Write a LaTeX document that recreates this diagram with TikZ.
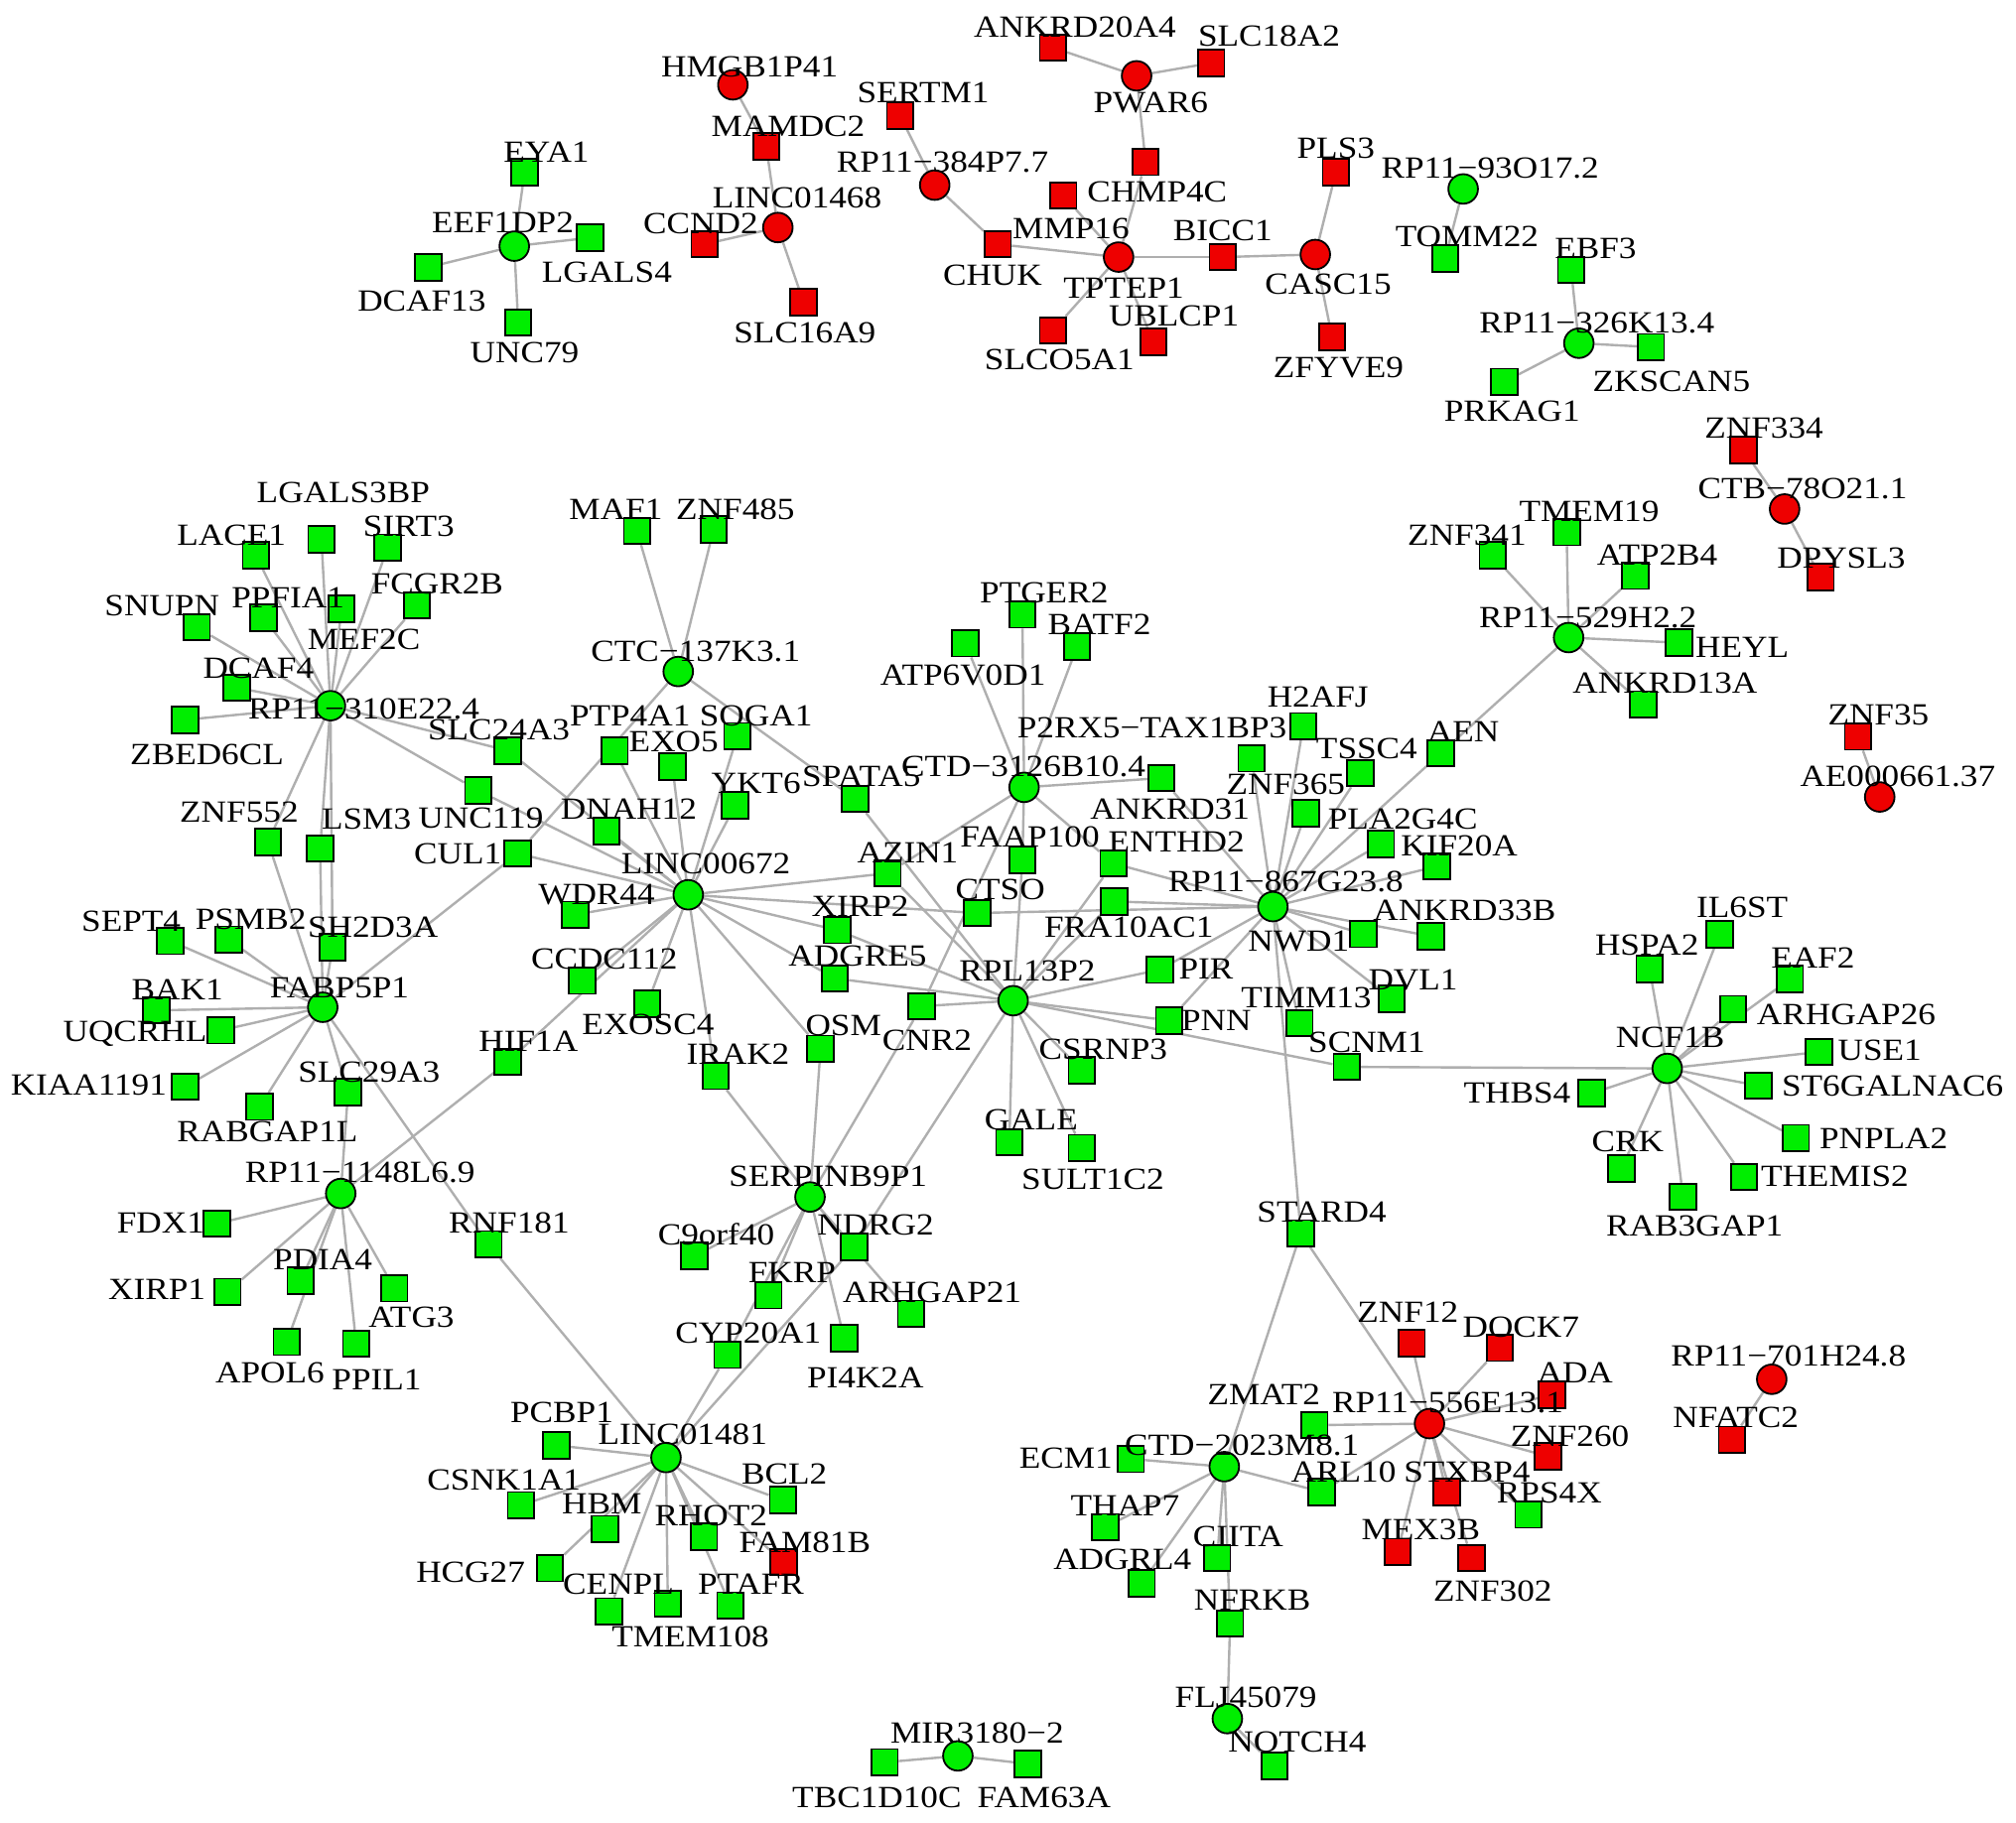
\documentclass[tikz,border=0pt]{standalone}
\usepackage{fontspec}
\setmainfont{Liberation Serif}
\usepackage{graphicx}
\definecolor{ngreen}{RGB}{0,238,0}
\definecolor{nred}{RGB}{238,0,0}
\definecolor{egray}{RGB}{175,175,175}
\pgfdeclarelayer{bg}
\pgfdeclarelayer{fg}
\pgfsetlayers{bg,main,fg}
\newcommand\lblfont{\fontsize{27.2}{30}\selectfont}
\newcommand\lbs[1]{\scalebox{1}[0.88]{#1}}
\newcommand\nd[5]{%
  \node[#1] (#2) at (#3) {};
  \begin{pgfonlayer}{fg}\node[lbl] (#2-l) at (#4) {\lbs{#5}};\end{pgfonlayer}}
\tikzset{
  gs/.style={rectangle, draw=black, line width=1.4pt, fill=ngreen, minimum size=20.5pt, inner sep=0pt},
  rs/.style={gs, fill=nred},
  gc/.style={circle, draw=black, line width=1.4pt, fill=ngreen, minimum size=23pt, inner sep=0pt},
  rc/.style={gc, fill=nred},
  lbl/.style={font=\lblfont, inner sep=0pt, text depth=0pt, anchor=center},
  edge/.style={draw=egray, line width=1.85pt},
}
\begin{document}
\begin{tikzpicture}[x=1pt,y=-1pt]
\useasboundingbox (0,0) rectangle (1568,1418);
\begin{pgfonlayer}{bg}
\fill[white] (0,0) rectangle (1568,1418);
\end{pgfonlayer}
% ---- small clusters top ----
\nd{gc}{eef}{400,191.5}{391,173}{EEF1DP2}
\nd{gs}{eya}{408,134}{425,118}{EYA1}
\nd{gs}{lgals4}{459,185}{472,212}{LGALS4}
\nd{gs}{dcaf13}{333,208}{328,234}{DCAF13}
\nd{gs}{unc79}{403,251}{408,274}{UNC79}
\nd{rc}{hmgb}{570,66}{583,52}{HMGB1P41}
\nd{rs}{mamdc2}{596,114}{613,98}{MAMDC2}
\nd{rc}{linc1468}{605,177}{620,154}{LINC01468}
\nd{rs}{ccnd2}{548,190}{545,174}{CCND2}
\nd{rs}{slc16a9}{625,235}{626,259}{SLC16A9}
\nd{rs}{ankrd20}{819,37}{836,21}{ANKRD20A4}
\nd{rs}{slc18a2}{942,49}{987,28}{SLC18A2}
\nd{rc}{pwar6}{884,59}{895,80}{PWAR6}
\nd{rs}{sertm1}{700,90}{718,72}{SERTM1}
\nd{rc}{rp384}{727,144}{733,126}{RP11−384P7.7}
\nd{rs}{chmp4c}{891,126}{900,149}{CHMP4C}
\nd{rs}{mmp16}{827,152}{833,178}{MMP16}
\nd{rs}{chuk}{776,190}{772,214}{CHUK}
\nd{rc}{tptep1}{870,200}{874,224}{TPTEP1}
\nd{rs}{bicc1}{951,200}{951,179}{BICC1}
\nd{rs}{ublcp1}{897,266}{913,246}{UBLCP1}
\nd{rs}{slco5a1}{819,257}{824,280}{SLCO5A1}
\nd{rc}{casc15}{1023,198}{1033,221}{CASC15}
\nd{rs}{pls3}{1039,134}{1039,115}{PLS3}
\nd{rs}{zfyve9}{1036,262}{1041,286}{ZFYVE9}
\nd{gc}{rp93}{1138,147}{1159,131}{RP11−93O17.2}
\nd{gs}{tomm22}{1124,201}{1141,184}{TOMM22}
\nd{gs}{ebf3}{1222,210}{1241,193}{EBF3}
\nd{gc}{rp326}{1228,267}{1242,251}{RP11−326K13.4}
\nd{gs}{zkscan5}{1284,270}{1300,297}{ZKSCAN5}
\nd{gs}{prkag1}{1170,297}{1176,320}{PRKAG1}
\nd{rs}{znf334}{1356,350}{1372,333}{ZNF334}
\nd{rc}{ctb}{1388,396}{1402,380}{CTB−78O21.1}
\nd{rs}{dpysl3}{1416,449}{1432,434}{DPYSL3}
\nd{rs}{znf35}{1445,573}{1461,556}{ZNF35}
\nd{rc}{ae}{1462,620}{1476,604}{AE000661.37}
% ---- RP11-529H2.2 ----
\nd{gc}{rp529}{1220,496}{1235,480}{RP11−529H2.2}
\nd{gs}{znf341}{1161,432}{1141,416}{ZNF341}
\nd{gs}{tmem19}{1218.5,414}{1236,398}{TMEM19}
\nd{gs}{atp2b4}{1272,448}{1289,432}{ATP2B4}
\nd{gs}{heyl}{1306,500}{1355,504}{HEYL}
\nd{gs}{ankrd13a}{1278,548}{1295,531}{ANKRD13A}
\nd{gs}{aen}{1120.5,586}{1138,569}{AEN}
% ---- RP11-310E22.4 ----
\nd{gc}{rp310}{257,549}{283,551}{RP11−310E22.4}
\nd{gs}{lace1}{199,432}{180,416}{LACE1}
\nd{gs}{lgals3bp}{250,419.5}{267,383}{LGALS3BP}
\nd{gs}{sirt3}{301.6,426}{318,409}{SIRT3}
\nd{gs}{ppfia1}{205,480.5}{224,465}{PPFIA1}
\nd{gs}{mef2c}{265.6,473.5}{283,497}{MEF2C}
\nd{gs}{fcgr2b}{324.3,471}{340,454}{FCGR2B}
\nd{gs}{snupn}{153,488}{126,471}{SNUPN}
\nd{gs}{dcaf4}{184,535}{201,520}{DCAF4}
\nd{gs}{zbed6cl}{144,560}{161,587}{ZBED6CL}
\nd{gs}{slc24a3}{395,584}{388,568}{SLC24A3}
\nd{gs}{unc119}{372,615}{374,636}{UNC119}
\nd{gs}{znf552}{208.4,655}{186,632}{ZNF552}
\nd{gs}{lsm3}{249,660}{285,637}{LSM3}
\nd{gs}{cul1}{402.7,664}{356,664}{CUL1}
% ---- FABP5P1 ----
\nd{gc}{fabp}{251,783.6}{264,768}{FABP5P1}
\nd{gs}{sept4}{132.5,732}{102,717}{SEPT4}
\nd{gs}{psmb2}{178,731}{195,715}{PSMB2}
\nd{gs}{sh2d3a}{258.6,737}{290,721}{SH2D3A}
\nd{gs}{bak1}{121.7,786}{138,770}{BAK1}
\nd{gs}{uqcrhl}{171.7,801.6}{105,802}{UQCRHL}
\nd{gs}{kiaa}{144,845.4}{69,844}{KIAA1191}
\nd{gs}{rabgap}{202,861}{208,880}{RABGAP1L}
\nd{gs}{slc29a3}{270.7,849.7}{287,834}{SLC29A3}
% ---- RP11-1148L6.9 ----
\nd{gc}{rp1148}{265,928.5}{280,912}{RP11−1148L6.9}
\nd{gs}{fdx1}{168.6,952}{125,951}{FDX1}
\nd{gs}{xirp1}{177,1005}{122,1003}{XIRP1}
\nd{gs}{pdia4}{233.7,996.4}{251,980}{PDIA4}
\nd{gs}{atg3}{306.7,1002.3}{320,1025}{ATG3}
\nd{gs}{apol6}{223,1044}{210,1068}{APOL6}
\nd{gs}{ppil1}{277,1045.3}{293,1073}{PPIL1}
\nd{gs}{hif1a}{395,826}{411,810}{HIF1A}
\nd{gs}{rnf181}{380,968}{396,951}{RNF181}
% ---- CTC / LINC00672 ----
\nd{gc}{ctc}{527.5,522.4}{541,507}{CTC−137K3.1}
\nd{gs}{maf1}{495.4,413}{479,396}{MAF1}
\nd{gs}{znf485}{555,412}{572,396}{ZNF485}
\nd{gs}{ptp4a1}{478,584}{490,557}{PTP4A1}
\nd{gs}{soga1}{573.4,572.6}{588,557}{SOGA1}
\nd{gs}{exo5}{523,596.5}{524,577}{EXO5}
\nd{gs}{ykt6}{571.8,626.6}{588,609}{YKT6}
\nd{gs}{spata5}{665,621.5}{670,604}{SPATA5}
\nd{gs}{dnah12}{471.7,646.7}{489,629}{DNAH12}
\nd{gc}{linc672}{535.3,696.1}{549,672}{LINC00672}
\nd{gs}{azin1}{690.3,679.4}{706,663}{AZIN1}
\nd{gs}{wdr44}{447.3,711.6}{464,696}{WDR44}
\nd{gs}{ccdc112}{452.9,763}{470,746}{CCDC112}
\nd{gs}{exosc4}{503.4,781}{504,797}{EXOSC4}
\nd{gs}{irak2}{556.6,837}{574,820}{IRAK2}
\nd{gs}{osm}{638.2,815.8}{656,798}{OSM}
\nd{gs}{cnr2}{716.8,782.8}{721,809}{CNR2}
\nd{gs}{xirp2}{651.2,723.6}{669,705}{XIRP2}
\nd{gs}{adgre5}{649.3,761.2}{667,744}{ADGRE5}
\nd{gs}{ctso}{760,710.3}{778,692}{CTSO}
% ---- CTD-3126B10.4 ----
\nd{gc}{ctd3126}{796.5,612.5}{796,596}{CTD−3126B10.4}
\nd{gs}{ptger2}{795.2,478}{812,461}{PTGER2}
\nd{gs}{batf2}{837.7,503}{855,486}{BATF2}
\nd{gs}{atp6v0d1}{750.9,500.5}{749,525}{ATP6V0D1}
\nd{gs}{ankrd31}{903.3,605.3}{910,629}{ANKRD31}
\nd{gs}{p2rx5}{973.4,590}{896,566}{P2RX5−TAX1BP3}
\nd{gs}{faap100}{795.2,669}{801,651}{FAAP100}
\nd{gs}{enthd2}{866,671.7}{915,655}{ENTHD2}
\nd{gs}{fra10ac1}{866.6,701.3}{878,721}{FRA10AC1}
% ---- RP11-867G23.8 ----
\nd{gc}{rp867}{990,705.3}{1000,686}{RP11−867G23.8}
\nd{gs}{h2afj}{1013.6,565}{1025,542}{H2AFJ}
\nd{gs}{tssc4}{1058,601.5}{1063,582}{TSSC4}
\nd{gs}{znf365}{1015.5,632.6}{1000,610}{ZNF365}
\nd{gs}{pla2g4c}{1074,656.6}{1091,637}{PLA2G4C}
\nd{gs}{kif20a}{1117.5,674}{1135,658}{KIF20A}
\nd{gs}{nwd1}{1060.3,726.6}{1010,732}{NWD1}
\nd{gs}{ankrd33b}{1113,728.3}{1139,708}{ANKRD33B}
\nd{gs}{pir}{902,754.4}{938,754}{PIR}
\nd{gs}{dvl1}{1082.4,777}{1099,762}{DVL1}
\nd{gs}{timm13}{1010.8,796}{1016,776}{TIMM13}
\nd{gs}{pnn}{909.3,793.9}{946,794}{PNN}
\nd{gs}{scnm1}{1047.4,830}{1063,811}{SCNM1}
% ---- RPL13P2 ----
\nd{gc}{rpl13}{788,778.5}{799,755}{RPL13P2}
\nd{gs}{csrnp3}{841.4,832.5}{858,816}{CSRNP3}
\nd{gs}{gale}{785,888.6}{802,871}{GALE}
\nd{gs}{sult1c2}{841.4,893}{850,917}{SULT1C2}
% ---- NCF1B ----
\nd{gc}{ncf1b}{1296.7,831.2}{1299,807}{NCF1B}
\nd{gs}{il6st}{1337.4,727}{1355,706}{IL6ST}
\nd{gs}{hspa2}{1283,754}{1281,735}{HSPA2}
\nd{gs}{eaf2}{1392.2,761.7}{1410,745}{EAF2}
\nd{gs}{arhgap26}{1348,785}{1436,789}{ARHGAP26}
\nd{gs}{use1}{1414.7,818.4}{1462,817}{USE1}
\nd{gs}{thbs4}{1238,850.5}{1180,850}{THBS4}
\nd{gs}{st6}{1367.7,844.6}{1472,845}{ST6GALNAC6}
\nd{gs}{pnpla2}{1396.8,885.3}{1465,886}{PNPLA2}
\nd{gs}{crk}{1261,909.2}{1266,888}{CRK}
\nd{gs}{themis2}{1356.4,915.6}{1427,915}{THEMIS2}
\nd{gs}{rab3gap1}{1309,931}{1318,954}{RAB3GAP1}
% ---- SERPINB9P1 ----
\nd{gc}{serpin}{630,931.2}{644,915}{SERPINB9P1}
\nd{gs}{c9orf40}{540,977}{557,960}{C9orf40}
\nd{gs}{ndrg2}{664.2,970}{681,953}{NDRG2}
\nd{gs}{fkrp}{597.7,1007.6}{616,990}{FKRP}
\nd{gs}{arhgap21}{708.5,1022}{725,1005}{ARHGAP21}
\nd{gs}{cyp20a1}{565.7,1054}{582,1037}{CYP20A1}
\nd{gs}{pi4k2a}{656.5,1041.2}{673,1072}{PI4K2A}
% ---- LINC01481 ----
\nd{gc}{linc1481}{518,1133.9}{531,1116}{LINC01481}
\nd{gs}{pcbp1}{432.8,1124.4}{437,1099}{PCBP1}
\nd{gs}{csnk1a1}{405.1,1171}{392,1151}{CSNK1A1}
\nd{gs}{hbm}{470.6,1189.5}{468,1170}{HBM}
\nd{gs}{rhot2}{547.5,1195.6}{553,1179}{RHOT2}
\nd{gs}{bcl2}{608.9,1167}{610,1147}{BCL2}
\nd{rs}{fam81b}{609.5,1215.4}{626,1200}{FAM81B}
\nd{gs}{hcg27}{427.8,1220}{366,1223}{HCG27}
\nd{gs}{cenpl}{473.6,1253.6}{481,1232}{CENPL}
\nd{gs}{tmem108}{519.4,1247.5}{537,1273}{TMEM108}
\nd{gs}{ptafr}{568.1,1249}{584,1232}{PTAFR}
% ---- bottom right ----
\nd{gs}{stard4}{1011.7,959.4}{1028,943}{STARD4}
\nd{rc}{rp556}{1111.8,1107.5}{1126,1091}{RP11−556E13.1}
\nd{rs}{znf12}{1098,1045}{1095,1021}{ZNF12}
\nd{rs}{dock7}{1166.5,1048.6}{1183,1032}{DOCK7}
\nd{rs}{ada}{1207,1085.2}{1225,1068}{ADA}
\nd{rs}{znf260}{1204,1133}{1221,1117}{ZNF260}
\nd{rs}{stxbp4}{1125.2,1160.6}{1141,1145}{STXBP4}
\nd{gs}{rps4x}{1188.7,1178.3}{1205,1161}{RPS4X}
\nd{rs}{mex3b}{1087,1207.3}{1105,1190}{MEX3B}
\nd{rs}{znf302}{1144.5,1212}{1161,1238}{ZNF302}
\nd{gs}{zmat2}{1022.3,1108.7}{983,1085}{ZMAT2}
\nd{gc}{ctd2023}{952.2,1141}{966,1124}{CTD−2023M8.1}
\nd{gs}{ecm1}{879.5,1135}{829,1134}{ECM1}
\nd{gs}{arl10}{1028,1160.6}{1045,1145}{ARL10}
\nd{gs}{thap7}{859.7,1188}{875,1171}{THAP7}
\nd{gs}{ciita}{946.7,1212}{963,1195}{CIITA}
\nd{gs}{adgrl4}{888,1231.7}{873,1213}{ADGRL4}
\nd{gs}{nfrkb}{956.7,1263}{974,1245}{NFRKB}
\nd{gc}{flj}{954.6,1337}{969,1320}{FLJ45079}
\nd{gs}{notch4}{991.2,1373.7}{1009,1355}{NOTCH4}
\nd{gc}{mir}{745,1366}{760,1348}{MIR3180−2}
\nd{gs}{tbc}{688,1371}{682,1398}{TBC1D10C}
\nd{gs}{fam63a}{799.5,1372.2}{812,1398}{FAM63A}
\nd{rc}{rp701}{1378,1073}{1391,1055}{RP11−701H24.8}
\nd{rs}{nfatc2}{1347,1120}{1350,1103}{NFATC2}
% ---- edges ----
\begin{pgfonlayer}{bg}
\foreach \a/\b in {eef/eya, eef/lgals4, eef/dcaf13, eef/unc79,
 hmgb/mamdc2, mamdc2/linc1468, linc1468/ccnd2, linc1468/slc16a9,
 pwar6/ankrd20, pwar6/slc18a2, pwar6/chmp4c, chmp4c/tptep1,
 sertm1/rp384, rp384/chuk, chuk/tptep1, mmp16/tptep1, tptep1/bicc1, bicc1/casc15,
 tptep1/slco5a1, tptep1/ublcp1, casc15/pls3, casc15/zfyve9,
 rp93/tomm22, rp326/ebf3, rp326/zkscan5, rp326/prkag1,
 znf334/ctb, ctb/dpysl3, znf35/ae, rp701/nfatc2, mir/tbc, mir/fam63a,
 rp529/znf341, rp529/tmem19, rp529/atp2b4, rp529/heyl, rp529/ankrd13a, rp529/aen,
 rp310/lace1, rp310/lgals3bp, rp310/sirt3, rp310/ppfia1, rp310/mef2c, rp310/fcgr2b,
 rp310/snupn, rp310/dcaf4, rp310/zbed6cl, rp310/slc24a3, rp310/unc119, rp310/znf552,
 rp310/lsm3, rp310/sh2d3a,
 fabp/sept4, fabp/psmb2, fabp/sh2d3a, fabp/bak1, fabp/uqcrhl, fabp/kiaa, fabp/rabgap,
 fabp/slc29a3, fabp/znf552, fabp/lsm3, fabp/cul1, fabp/rnf181,
 rp1148/slc29a3, rp1148/fdx1, rp1148/xirp1, rp1148/pdia4, rp1148/atg3, rp1148/apol6,
 rp1148/ppil1, rp1148/hif1a,
 ctc/maf1, ctc/znf485, ctc/cul1, ctc/spata5,
 linc672/slc24a3, linc672/unc119, linc672/cul1, linc672/ptp4a1, linc672/dnah12,
 linc672/exo5, linc672/soga1, linc672/ykt6, linc672/wdr44, linc672/ccdc112, linc672/hif1a,
 linc672/exosc4, linc672/irak2, linc672/osm, linc672/xirp2, linc672/adgre5, linc672/azin1,
 linc672/ctso,
 ctd3126/ptger2, ctd3126/batf2, ctd3126/atp6v0d1, ctd3126/ankrd31, ctd3126/faap100,
 ctd3126/azin1, ctd3126/enthd2, ctd3126/cnr2,
 rpl13/spata5, rpl13/azin1, rpl13/xirp2, rpl13/adgre5, rpl13/cnr2, rpl13/faap100,
 rpl13/enthd2, rpl13/fra10ac1, rpl13/pir, rpl13/pnn, rpl13/scnm1, rpl13/csrnp3,
 rpl13/gale, rpl13/sult1c2, rpl13/ndrg2,
 rp867/h2afj, rp867/p2rx5, rp867/tssc4, rp867/znf365, rp867/pla2g4c, rp867/kif20a,
 rp867/aen, rp867/ankrd31, rp867/enthd2, rp867/fra10ac1, rp867/ctso, rp867/nwd1,
 rp867/ankrd33b, rp867/dvl1, rp867/timm13, rp867/pir, rp867/pnn, rp867/stard4,
 ncf1b/il6st, ncf1b/hspa2, ncf1b/eaf2, ncf1b/arhgap26, ncf1b/use1, ncf1b/thbs4,
 ncf1b/st6, ncf1b/pnpla2, ncf1b/crk, ncf1b/themis2, ncf1b/rab3gap1, ncf1b/scnm1,
 serpin/irak2, serpin/osm, serpin/cnr2, serpin/c9orf40, serpin/ndrg2, serpin/fkrp,
 serpin/cyp20a1, serpin/pi4k2a, serpin/arhgap21,
 linc1481/rnf181, linc1481/cyp20a1, linc1481/ndrg2, linc1481/pcbp1, linc1481/csnk1a1,
 linc1481/hbm, linc1481/hcg27, linc1481/cenpl, linc1481/tmem108, linc1481/rhot2,
 linc1481/ptafr, linc1481/bcl2, linc1481/fam81b,
 stard4/ctd2023, stard4/rp556,
 rp556/znf12, rp556/dock7, rp556/ada, rp556/znf260, rp556/stxbp4, rp556/rps4x,
 rp556/mex3b, rp556/znf302, rp556/zmat2, rp556/arl10,
 ctd2023/ecm1, ctd2023/thap7, ctd2023/adgrl4, ctd2023/ciita, ctd2023/nfrkb, ctd2023/arl10,
 nfrkb/flj, flj/notch4}
  \draw[edge] (\a) -- (\b);
\end{pgfonlayer}
\end{tikzpicture}
\end{document}
